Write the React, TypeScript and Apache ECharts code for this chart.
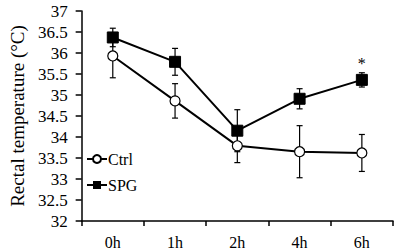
import React, { useEffect, useRef } from "react";
import * as echarts from "echarts";

const categories = ["0h", "1h", "2h", "4h", "6h"];
const ctrlMean = [35.93, 34.86, 33.79, 33.65, 33.62];
const ctrlErr = [0.52, 0.41, 0.4, 0.62, 0.44];
const spgMean = [36.37, 35.79, 34.15, 34.91, 35.36];
const spgErr = [0.22, 0.32, 0.5, 0.24, 0.17];
const yTicks = { min: 32, max: 37, interval: 0.5 };
const sigMark = { category: "6h", value: 35.75, text: "*" };

const FONT = "'Liberation Serif', 'Times New Roman', serif";

function errorSeries(name: string, mean: number[], err: number[]) {
  const data = mean.map((m, i) => [i, m - err[i], m + err[i]]);
  return {
    type: "custom",
    name: name + "_err",
    z: 1,
    silent: true,
    renderItem: (params: any, api: any) => {
      const x = api.value(0);
      const lo = api.coord([x, api.value(1)]);
      const hi = api.coord([x, api.value(2)]);
      const w = 3;
      const style = { stroke: "#000", lineWidth: 1.2 };
      return {
        type: "group",
        children: [
          { type: "line", shape: { x1: lo[0], y1: lo[1], x2: hi[0], y2: hi[1] }, style },
          { type: "line", shape: { x1: lo[0] - w, y1: lo[1], x2: lo[0] + w, y2: lo[1] }, style },
          { type: "line", shape: { x1: hi[0] - w, y1: hi[1], x2: hi[0] + w, y2: hi[1] }, style },
        ],
      };
    },
    encode: { x: 0, y: [1, 2] },
    data,
  };
}

export default function App() {
  const ref = useRef<HTMLDivElement>(null);
  useEffect(() => {
    if (!ref.current) return;
    const chart = echarts.init(ref.current, null, { renderer: "svg" });
    chart.setOption({
      animation: false,
      textStyle: { fontFamily: FONT },
      grid: { left: 67, right: 4, top: 11, bottom: 30 },
      legend: {
        orient: "vertical",
        left: 81,
        top: 146,
        itemGap: 10,
        itemWidth: 20,
        itemHeight: 10,
        data: ["Ctrl", "SPG"],
        textStyle: { fontFamily: FONT, fontSize: 16, color: "#000", padding: [0, 0, 0, -4] },
      },
      xAxis: {
        type: "category",
        data: categories,
        boundaryGap: true,
        axisLine: { lineStyle: { color: "#000", width: 1.5 } },
        axisTick: { show: true, length: 5, lineStyle: { color: "#000", width: 1.5 } },
        axisLabel: { color: "#000", fontSize: 16, fontFamily: FONT, margin: 13 },
        splitLine: { show: false },
      },
      yAxis: {
        type: "value",
        min: yTicks.min,
        max: yTicks.max,
        interval: yTicks.interval,
        name: "Rectal temperature (°C)",
        nameLocation: "middle",
        nameGap: 54,
        nameTextStyle: { color: "#000", fontSize: 19, fontFamily: FONT },
        axisLine: { show: true, lineStyle: { color: "#000", width: 1.5 } },
        axisTick: { show: true, length: 6, lineStyle: { color: "#000", width: 1.5 } },
        axisLabel: { color: "#000", fontSize: 17, fontFamily: FONT, margin: 14 },
        splitLine: { show: false },
      },
      series: [
        errorSeries("Ctrl", ctrlMean, ctrlErr),
        errorSeries("SPG", spgMean, spgErr),
        {
          name: "Ctrl",
          type: "line",
          z: 3,
          data: ctrlMean,
          symbol: "circle",
          symbolSize: 10,
          lineStyle: { color: "#000", width: 2 },
          itemStyle: { color: "#fff", borderColor: "#000", borderWidth: 1.2 },
        },
        {
          name: "SPG",
          type: "line",
          z: 3,
          data: spgMean,
          symbol: "rect",
          symbolSize: 11,
          lineStyle: { color: "#000", width: 2 },
          itemStyle: { color: "#000", borderColor: "#000" },
          markPoint: {
            symbol: "circle",
            symbolSize: 0,
            data: [
              {
                coord: [sigMark.category, sigMark.value],
                label: {
                  show: true,
                  formatter: sigMark.text,
                  color: "#000",
                  fontSize: 16,
                  fontFamily: FONT,
                },
              },
            ],
          },
        },
      ],
    });
    return () => chart.dispose();
  }, []);
  return <div ref={ref} style={{ width: 397, height: 251, position: "absolute", left: 0, top: 0, background: "#fff" }} />;
}
